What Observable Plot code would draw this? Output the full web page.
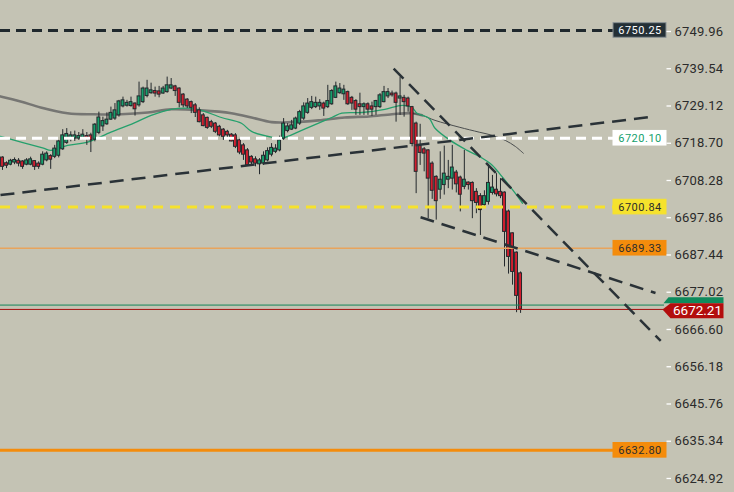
<!DOCTYPE html>
<html>
<head>
<meta charset="utf-8">
<script src="https://cdn.jsdelivr.net/npm/d3@7"></script>
<script src="https://cdn.jsdelivr.net/npm/@observablehq/plot@0.6"></script>
<style>
  body { margin: 0; background: #c4c3b4; }
  #chart svg { display: block; }
</style>
</head>
<body>
<div id="chart"></div>
<script>
// candles (one per bar, left to right)
const opens = [
  6714.7, 6713.1, 6712.7, 6713.3, 6713.8, 6713.6, 6712.7, 6712.7, 6713.7, 6713.0,
  6712.7, 6713.9, 6715.1, 6714.9, 6715.2, 6717.0, 6718.8, 6719.8, 6720.0, 6720.0,
  6720.2, 6720.7, 6720.9, 6719.7, 6721.6, 6723.4, 6724.0, 6725.3, 6725.6, 6726.5,
  6729.0, 6729.2, 6729.1, 6729.8, 6729.3, 6730.2, 6731.9, 6732.7, 6733.3, 6733.2,
  6732.6, 6733.0, 6734.0, 6734.6, 6734.0, 6732.3, 6730.9, 6730.2, 6729.3, 6727.9,
  6726.5, 6725.8, 6724.6, 6724.2, 6723.3, 6722.5, 6721.9, 6721.1, 6720.9, 6719.5,
  6718.1, 6716.7, 6714.9, 6714.2, 6712.8, 6713.0, 6713.9, 6715.5, 6716.3, 6716.7,
  6720.0, 6722.1, 6722.5, 6722.8, 6724.2, 6725.6, 6727.2, 6728.6, 6728.8, 6729.0,
  6729.8, 6728.8, 6729.6, 6731.4, 6732.7, 6732.4, 6733.0, 6731.4, 6730.5, 6729.6,
  6728.8, 6729.6, 6729.0, 6728.8, 6728.8, 6730.2, 6731.8, 6732.6, 6732.6, 6731.2,
  6731.4, 6731.2, 6728.8, 6724.2, 6717.9, 6717.0, 6716.7, 6713.0, 6709.3, 6705.7,
  6707.0, 6708.5, 6708.8, 6710.5, 6709.1, 6706.5, 6707.7, 6707.6, 6705.1, 6703.9,
  6701.4, 6702.3, 6704.8, 6705.7, 6705.1, 6704.9, 6699.6, 6693.5, 6688.1, 6682.3
];
const highs = [
  6714.9, 6713.5, 6714.2, 6714.6, 6714.4, 6713.8, 6714.4, 6714.8, 6713.8, 6713.5,
  6716.3, 6716.3, 6715.5, 6718.1, 6719.5, 6722.5, 6722.8, 6721.9, 6722.1, 6721.7,
  6722.5, 6721.7, 6721.5, 6724.2, 6727.4, 6726.0, 6727.2, 6728.8, 6729.8, 6730.7,
  6731.6, 6730.7, 6731.6, 6730.0, 6735.8, 6734.4, 6736.3, 6735.5, 6734.4, 6734.6,
  6734.6, 6737.2, 6736.8, 6734.9, 6734.2, 6732.6, 6731.2, 6730.5, 6729.8, 6728.6,
  6727.0, 6726.0, 6725.1, 6724.5, 6723.7, 6722.8, 6722.3, 6721.4, 6721.4, 6719.8,
  6718.6, 6717.2, 6715.2, 6714.9, 6714.4, 6716.3, 6717.4, 6718.6, 6718.3, 6720.7,
  6725.6, 6724.2, 6725.1, 6726.0, 6727.9, 6730.0, 6731.2, 6731.8, 6731.6, 6730.9,
  6730.2, 6734.9, 6733.7, 6735.8, 6735.4, 6734.9, 6733.3, 6731.8, 6730.9, 6732.7,
  6730.0, 6730.0, 6730.2, 6730.7, 6732.6, 6734.6, 6734.0, 6733.3, 6733.0, 6737.2,
  6732.1, 6731.6, 6729.0, 6724.6, 6724.0, 6717.5, 6716.9, 6713.5, 6709.6, 6716.3,
  6717.9, 6713.9, 6718.1, 6711.1, 6709.5, 6716.7, 6707.9, 6707.9, 6706.0, 6704.6,
  6705.4, 6712.5, 6709.7, 6710.2, 6708.8, 6705.1, 6700.0, 6693.6, 6688.3, 6682.7
];
const lows = [
  6711.1, 6711.6, 6712.4, 6712.7, 6712.1, 6711.4, 6712.4, 6712.4, 6711.1, 6711.4,
  6712.4, 6713.5, 6711.4, 6714.4, 6714.6, 6716.7, 6718.4, 6719.1, 6719.2, 6719.5,
  6719.7, 6718.1, 6716.1, 6719.1, 6721.1, 6722.0, 6723.7, 6725.1, 6725.1, 6726.0,
  6728.6, 6728.8, 6728.8, 6726.3, 6728.8, 6729.8, 6731.4, 6732.4, 6731.6, 6731.4,
  6732.4, 6732.7, 6733.7, 6731.8, 6728.6, 6728.6, 6728.4, 6727.0, 6725.9, 6724.4,
  6723.3, 6722.6, 6722.8, 6721.4, 6720.5, 6719.5, 6720.0, 6719.1, 6717.2, 6715.5,
  6713.9, 6712.3, 6712.5, 6712.1, 6709.9, 6712.5, 6713.5, 6714.9, 6715.8, 6716.3,
  6719.5, 6721.6, 6722.3, 6722.5, 6723.7, 6725.1, 6726.8, 6728.1, 6728.4, 6727.9,
  6726.2, 6728.4, 6729.3, 6731.2, 6732.4, 6730.7, 6729.3, 6727.9, 6726.5, 6726.5,
  6726.5, 6726.5, 6726.2, 6726.5, 6728.4, 6730.0, 6731.2, 6731.6, 6724.6, 6726.5,
  6726.0, 6727.4, 6717.7, 6704.6, 6712.5, 6710.7, 6697.6, 6703.0, 6697.2, 6703.0,
  6704.2, 6706.0, 6705.6, 6704.8, 6699.5, 6705.7, 6705.6, 6697.6, 6699.0, 6692.9,
  6701.1, 6701.4, 6704.2, 6703.7, 6703.2, 6684.1, 6682.1, 6679.0, 6671.3, 6671.1
];
const closes = [
  6712.1, 6712.4, 6713.8, 6714.0, 6713.0, 6712.1, 6713.9, 6714.2, 6712.1, 6712.1,
  6715.5, 6715.8, 6714.1, 6717.2, 6719.2, 6720.9, 6721.3, 6720.9, 6720.9, 6720.7,
  6721.1, 6720.0, 6719.5, 6723.9, 6725.9, 6724.9, 6725.3, 6727.2, 6727.9, 6730.4,
  6730.7, 6730.0, 6730.2, 6728.2, 6731.8, 6734.0, 6734.0, 6733.5, 6732.6, 6732.3,
  6734.0, 6734.9, 6734.9, 6733.3, 6730.0, 6729.3, 6729.0, 6728.6, 6727.2, 6724.6,
  6723.5, 6723.0, 6723.3, 6721.9, 6720.9, 6720.5, 6720.9, 6719.2, 6717.7, 6716.1,
  6715.5, 6712.5, 6713.3, 6713.0, 6713.9, 6715.2, 6716.5, 6717.4, 6717.2, 6719.5,
  6724.2, 6723.4, 6723.7, 6725.6, 6727.4, 6729.0, 6729.8, 6730.2, 6730.0, 6730.0,
  6728.4, 6730.5, 6733.3, 6734.6, 6734.0, 6733.7, 6729.6, 6729.8, 6728.1, 6728.8,
  6729.6, 6728.1, 6728.1, 6730.5, 6732.1, 6733.0, 6733.0, 6732.1, 6730.0, 6731.8,
  6730.2, 6729.0, 6718.5, 6710.7, 6716.0, 6715.8, 6708.8, 6705.4, 6702.5, 6708.5,
  6710.2, 6709.3, 6711.9, 6707.2, 6704.3, 6708.5, 6707.0, 6702.5, 6702.0, 6700.0,
  6703.9, 6707.6, 6706.3, 6704.4, 6703.9, 6693.9, 6686.9, 6682.7, 6676.0, 6672.21
];

// moving averages (bar index, price)
const fastIdx = [-0.5, 10.2, 12, 16.2, 21.2, 27, 32.7, 37, 42, 46.2, 49.5, 54.5, 59.5, 62, 67, 69.5, 74.5,
  82, 84.5, 89.5, 95.2, 99.5, 102, 103.2, 106.2, 107.7, 111.5, 115.7, 119.5, 122, 124.5, 127.7, 129.5];
const fastVal = [6720.6, 6717.3, 6716.7, 6718.1, 6719.0, 6721.8, 6724.3, 6726.5, 6728.2, 6728.5, 6727.9,
  6725.9, 6724.3, 6722.0, 6720.4, 6720.1, 6722.3, 6725.9, 6727.1, 6727.3, 6728.2, 6729.3, 6728.7, 6727.1,
  6725.7, 6722.9, 6719.5, 6716.7, 6714.5, 6712.5, 6709.2, 6704.7, 6701.9];
const slowIdx = [-0.5, 4.5, 9.5, 16.2, 22.7, 29.5, 36.2, 42, 49.5, 57, 62, 67, 72, 78.7, 85.2, 91.2, 97,
  102, 104.5, 107.7, 113.7, 118.7, 122, 125.2, 127.7, 129.7];
const slowVal = [6731.8, 6730.4, 6728.7, 6727.1, 6726.8, 6726.8, 6727.3, 6728.2, 6727.9, 6727.1, 6725.9,
  6724.6, 6724.6, 6725.1, 6725.9, 6726.2, 6726.8, 6727.1, 6726.5, 6725.1, 6723.2, 6721.8, 6720.9, 6719.5,
  6717.8, 6715.9];

// price levels with their tags
const levelValues = [6750.25, 6720.10, 6700.84, 6689.33, 6632.80];
const levelNames = ["stop", "white", "yellow", "thin", "orange"];

// hand drawn trend lines (bar index, price)
const trendStart = [[-0.5, 6704.2], [97.4, 6739.6], [104.1, 6698.0]];
const trendEnd = [[162.6, 6726.2], [163.9, 6663.4], [162.6, 6676.8]];

const lastPrice = 6672.21;
const bidPrice = 6673.43;

const yTicks = [6749.96, 6739.54, 6729.12, 6718.70, 6708.28, 6697.86, 6687.44,
  6677.02, 6666.60, 6656.18, 6645.76, 6635.34, 6624.92];

const W = 734, H = 492;
const BG = "#c4c3b4";
const xDomain = [-0.498, 182.27];
const yDomain = [6621.0, 6758.63];
// pixel -> data helpers for labels sitting in the right gutter
const xAt = (px) => xDomain[0] + (px * (xDomain[1] - xDomain[0])) / W;
const yAt = (py) => yDomain[1] - (py * (yDomain[1] - yDomain[0])) / H;
const dy = (px) => (px * (yDomain[1] - yDomain[0])) / H;

const levelStyle = {
  stop: { line: "#1f282d", width: 3, dash: "10,6", box: "#243036", boxStroke: "#8a9295", text: "#ffffff" },
  white: { line: "#ffffff", width: 3, dash: "10,6", box: "#ffffff", boxStroke: "#ffffff", text: "#14a06c" },
  yellow: { line: "#f6e22c", width: 3, dash: "10,7", box: "#f6e22c", boxStroke: "#f6e22c", text: "#2d2d2d" },
  thin: { line: "#e8a45c", width: 1.4, dash: null, box: "#f48c0c", boxStroke: "#f48c0c", text: "#2d2d2d" },
  orange: { line: "#f48c0c", width: 3, dash: null, box: "#f48c0c", boxStroke: "#f48c0c", text: "#2d2d2d" },
};

function draw_chart(targetElement) {
  const candles = opens.map((o, i) => ({
    i,
    open: o,
    high: highs[i],
    low: lows[i],
    close: closes[i],
  }));
  const fast = fastIdx.map((i, k) => ({ i, v: fastVal[k] }));
  const slow = slowIdx.map((i, k) => ({ i, v: slowVal[k] }));
  const slowThick = slow.filter((d) => d.i <= 104.5);
  const slowThin = slow.filter((d) => d.i >= 102);
  const levels = levelValues.map((v, k) => ({ value: v, ...levelStyle[levelNames[k]] }));
  const trends = trendStart.map((s, k) => ({ x1: s[0], y1: s[1], x2: trendEnd[k][0], y2: trendEnd[k][1] }));

  const boxX1 = xAt(613), boxX2 = xAt(666), boxMid = xAt(639.5);
  const half = dy(7.3);

  // last price flag (green bid strip on top of red tag)
  const redFlag = [
    { x: xAt(662), y: lastPrice },
    { x: xAt(670), y: yAt(302.7) },
    { x: xAt(723), y: yAt(302.7) },
    { x: xAt(723), y: yAt(317.7) },
    { x: xAt(670), y: yAt(317.7) },
  ];
  const greenFlag = [
    { x: xAt(668), y: yAt(296.7) },
    { x: xAt(723), y: yAt(296.7) },
    { x: xAt(723), y: yAt(302.7) },
    { x: xAt(663), y: yAt(302.7) },
  ];

  const plot = Plot.plot({
    width: W,
    height: H,
    margin: 0,
    style: { background: BG, fontFamily: "Roboto, sans-serif", overflow: "visible" },
    x: { domain: xDomain, range: [0, W], axis: null },
    y: { domain: yDomain, range: [H, 0], axis: null },
    marks: [
      // moving averages
      Plot.line(slowThick, { x: "i", y: "v", stroke: "#767673", strokeWidth: 2.6, curve: "catmull-rom" }),
      Plot.line(slowThin, { x: "i", y: "v", stroke: "#4a4d4e", strokeWidth: 1, curve: "catmull-rom" }),
      Plot.line(fast, { x: "i", y: "v", stroke: "#25a06c", strokeWidth: 1.3, curve: "catmull-rom" }),

      // candles
      Plot.ruleX(candles, { x: "i", y1: "low", y2: "high", stroke: "#23282c", strokeWidth: 1 }),
      Plot.rect(candles, {
        x1: (d) => d.i - 0.36,
        x2: (d) => d.i + 0.36,
        y1: "open",
        y2: "close",
        fill: (d) => (d.close >= d.open ? "#17a06c" : "#d31f2f"),
        stroke: "#23282c",
        strokeWidth: 1,
      }),

      // horizontal levels
      ...levels.map((lv) =>
        Plot.ruleY([lv.value], {
          x1: xAt(0),
          x2: boxX1,
          stroke: lv.line,
          strokeWidth: lv.width,
          strokeDasharray: lv.dash,
        }),
      ),
      Plot.ruleY([bidPrice], { x1: xAt(0), x2: xAt(664), stroke: "#13865a", strokeWidth: 1 }),
      Plot.ruleY([lastPrice], { x1: xAt(0), x2: xAt(664), stroke: "#a50e0e", strokeWidth: 1 }),

      // trend lines
      Plot.link(trends, {
        x1: "x1",
        y1: "y1",
        x2: "x2",
        y2: "y2",
        stroke: "#2a3237",
        strokeWidth: 2.5,
        strokeDasharray: "14,8",
      }),

      // level tags
      Plot.rect(levels, {
        x1: boxX1,
        x2: boxX2,
        y1: (d) => d.value - half,
        y2: (d) => d.value + half,
        fill: (d) => d.box,
        stroke: (d) => d.boxStroke,
        strokeWidth: 1,
      }),
      Plot.text(levels, {
        x: boxMid,
        y: "value",
        text: (d) => d.value.toFixed(2),
        fill: (d) => d.text,
        fontSize: 11,
      }),

      // y ticks on the right
      Plot.ruleY(yTicks, { x1: xAt(666.5), x2: xAt(671), stroke: "#ffffff", strokeWidth: 1.3 }),
      Plot.text(yTicks, {
        x: xAt(674),
        y: (d) => d,
        text: (d) => d.toFixed(2),
        textAnchor: "start",
        fill: "#2b2b2b",
        fontSize: 13,
      }),

      // last price flag
      Plot.line(greenFlag, { x: "x", y: "y", fill: "#0f8a5c", stroke: "none" }),
      Plot.line(redFlag, { x: "x", y: "y", fill: "#b30d0d", stroke: "none" }),
      Plot.text([lastPrice], {
        x: xAt(697),
        y: yAt(310.2),
        text: (d) => d.toFixed(2),
        fill: "#ffffff",
        fontSize: 13.5,
      }),
    ],
  });

  // tags are drawn with a little tracking in the original
  d3.select(plot).selectAll("g[font-size='11']").attr("letter-spacing", "0.5px");
  d3.select(plot).selectAll("g[font-size='13']").attr("letter-spacing", "0.2px");

  targetElement.innerHTML = "";
  targetElement.appendChild(plot);
}

draw_chart(document.getElementById("chart"));
</script>
</body>
</html>
